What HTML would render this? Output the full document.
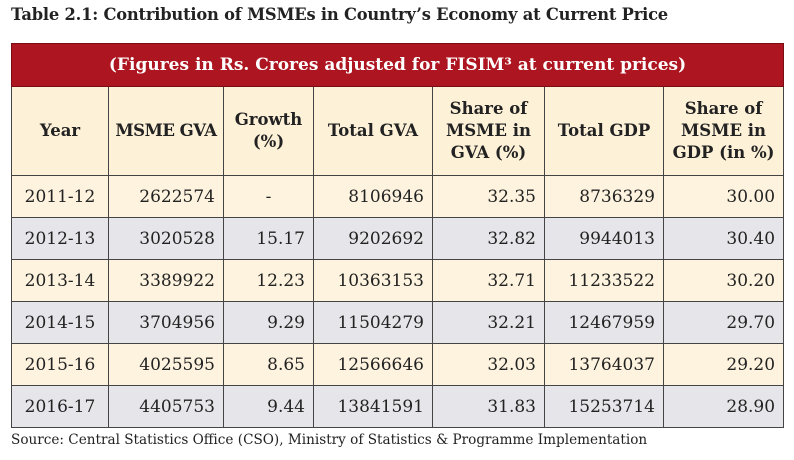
<!DOCTYPE html>
<html><head><style>
body{margin:0;width:794px;height:460px;background:#fff;font-family:"DejaVu Serif","Liberation Serif",serif;position:relative;overflow:hidden}
.t{position:absolute;left:11px;top:5px;font-size:16.3px;font-weight:bold;color:#222;letter-spacing:-0.2px}
table{position:absolute;left:11px;top:43px;border-collapse:collapse;table-layout:fixed;width:772px}
td,th{border:1px solid #444;padding:0 8px;font-size:17px;color:#222;overflow:hidden;white-space:nowrap}
.r{background:#ad1520;color:#fff;font-weight:bold;height:42px;text-align:center;font-size:17px;border-color:#7a0d14}
th{background:#fdf1d8;font-weight:bold;text-align:center;height:88px;white-space:normal;line-height:22px;font-size:16.5px;padding:0 4px}
th.n{white-space:nowrap;letter-spacing:-0.5px}
td{height:41px;text-align:right}
td:first-child{text-align:center}
tr.c td{background:#fdf3de}
tr.g td{background:#e6e6ea}
td.m{text-align:center}
.s{position:absolute;left:11px;top:432px;font-size:13.6px;color:#222}
</style></head><body>
<div class="t">Table 2.1: Contribution of MSMEs in Country’s Economy at Current Price</div>
<table>
<colgroup><col style="width:97px"><col style="width:115px"><col style="width:90px"><col style="width:119px"><col style="width:112px"><col style="width:119px"><col style="width:120px"></colgroup>
<tr><td class="r" colspan="7" style="text-align:center">(Figures in Rs. Crores adjusted for FISIM³ at current prices)</td></tr>
<tr><th>Year</th><th class="n">MSME GVA</th><th>Growth (%)</th><th>Total GVA</th><th>Share of MSME in GVA (%)</th><th>Total GDP</th><th>Share of MSME in GDP (in %)</th></tr>
<tr class="c"><td>2011-12</td><td>2622574</td><td class="m">-</td><td>8106946</td><td>32.35</td><td>8736329</td><td>30.00</td></tr>
<tr class="g"><td>2012-13</td><td>3020528</td><td>15.17</td><td>9202692</td><td>32.82</td><td>9944013</td><td>30.40</td></tr>
<tr class="c"><td>2013-14</td><td>3389922</td><td>12.23</td><td>10363153</td><td>32.71</td><td>11233522</td><td>30.20</td></tr>
<tr class="g"><td>2014-15</td><td>3704956</td><td>9.29</td><td>11504279</td><td>32.21</td><td>12467959</td><td>29.70</td></tr>
<tr class="c"><td>2015-16</td><td>4025595</td><td>8.65</td><td>12566646</td><td>32.03</td><td>13764037</td><td>29.20</td></tr>
<tr class="g"><td>2016-17</td><td>4405753</td><td>9.44</td><td>13841591</td><td>31.83</td><td>15253714</td><td>28.90</td></tr>
</table>
<div class="s">Source: Central Statistics Office (CSO), Ministry of Statistics &amp; Programme Implementation</div>
</body></html>
